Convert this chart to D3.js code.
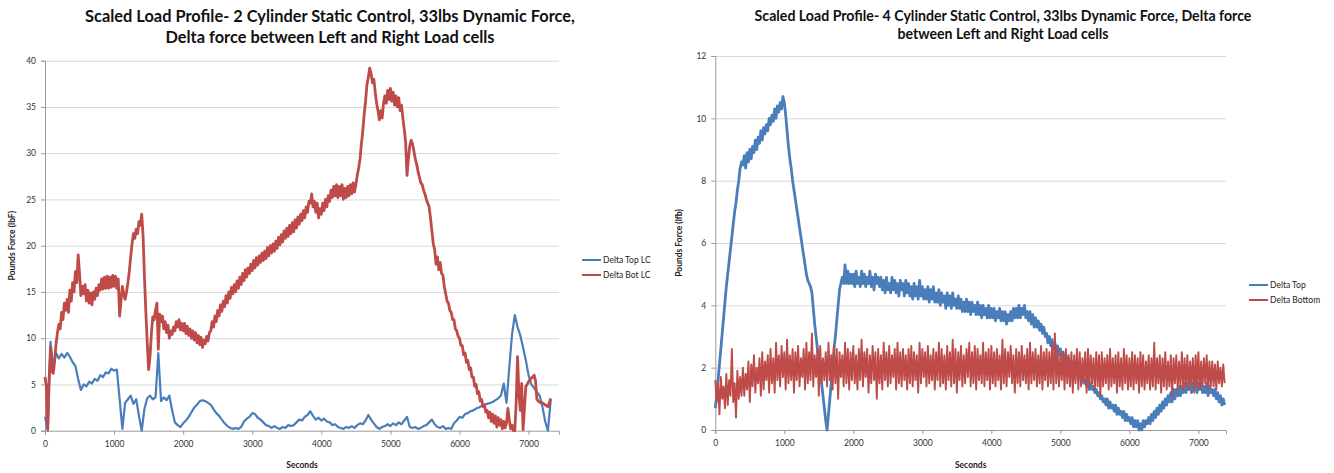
<!DOCTYPE html>
<html>
<head>
<meta charset="utf-8">
<script src="https://cdn.jsdelivr.net/npm/d3@7"></script>
<style>
  body { margin: 0; background: #ffffff; }
  svg { display: block; }
  text { font-family: Lato, "Open Sans", "DejaVu Sans", sans-serif; }
</style>
</head>
<body>
<svg id="chart" width="1334" height="473"></svg>
<script>
// --- 2 cylinder static control run: delta force (lbf) ---
// Top load cell, logged every 40 s
const deltaTopLCStep = 40;
const deltaTopLC = [
  1.5, 0.0, 9.6, 6.8, 8.4, 7.8, 8.3, 7.9, 8.4, 8.0,
  7.4, 7.0, 5.6, 4.4, 5.0, 4.8, 5.3, 5.1, 5.6, 5.4,
  6.0, 5.8, 6.3, 6.2, 6.7, 6.5, 6.6, 3.4, 0.2, 3.0,
  3.4, 3.8, 2.9, 3.4, 1.6, 0.0, 2.4, 3.5, 3.8, 3.4,
  3.6, 8.4, 3.2, 3.6, 3.3, 3.8, 2.2, 0.9, 0.6, 0.4,
  0.8, 1.1, 1.5, 2.0, 2.5, 2.8, 3.2, 3.3, 3.2, 3.0,
  2.8, 2.3, 1.9, 1.6, 1.2, 0.8, 0.5, 0.3, 0.2, 0.3,
  0.2, 0.4, 1.0, 1.3, 1.5, 1.9, 1.8, 1.4, 1.2, 0.9,
  0.6, 0.5, 0.3, 0.5, 0.3, 0.2, 0.4, 0.3, 0.6, 0.5,
  0.6, 0.9, 1.2, 1.1, 1.5, 1.7, 2.1, 1.6, 1.2, 1.4,
  1.1, 1.3, 1.0, 0.9, 0.6, 0.7, 0.4, 0.3, 0.2, 0.4,
  0.3, 0.5, 0.3, 0.6, 0.8, 0.7, 1.1, 1.7, 1.2, 0.8,
  0.4, 0.2, 0.4, 0.5, 0.7, 0.5, 0.8, 0.6, 0.9, 0.7,
  1.1, 1.5, 0.4, 0.3, 0.4, 0.2, 0.3, 0.5, 0.6, 0.9,
  1.2, 0.7, 0.4, 0.3, 0.5, 0.2, 0.3, 0.2, 0.8, 1.1,
  1.5, 1.4, 1.8, 1.9, 2.1, 2.2, 2.4, 2.5, 2.7, 2.8,
  2.9, 3.0, 3.1, 3.3, 3.5, 3.8, 5.1, 3.0, 6.8, 10.4,
  12.5, 11.2, 10.3, 9.0, 7.6, 6.0, 5.0, 4.6, 4.2, 3.8,
  2.6, 1.0, 0.0, 3.3
];
// Bottom load cell, logged every 20 s
const deltaBotLCStep = 20;
const deltaBotLC = [
  5.8, 4.8, 0.2, 5.6, 9.0, 6.4, 6.2, 7.6, 9.4, 10.6, 11.5, 11.0, 12.8, 12.0, 13.8, 13.0, 14.2, 12.8, 15.2, 14.0,
  16.0, 15.0, 17.2, 16.0, 19.0, 17.0, 14.6, 15.6, 14.8, 15.8, 14.0, 15.2, 13.8, 14.9, 13.6, 15.0, 14.2, 15.4, 14.6, 15.8,
  15.2, 16.4, 15.3, 16.6, 15.4, 16.7, 15.4, 16.6, 15.5, 16.8, 15.6, 16.7, 15.4, 16.4, 12.4, 14.0, 15.6, 14.8, 14.2, 15.0,
  16.0, 17.2, 18.8, 20.2, 21.3, 20.8, 21.8, 21.3, 22.6, 22.2, 23.4, 21.0, 16.5, 12.8, 9.5, 6.6, 8.0, 10.5, 12.3, 12.0,
  13.0, 13.8, 8.8, 12.6, 11.8, 12.4, 11.0, 11.8, 10.6, 11.4, 10.0, 10.8, 10.4, 11.2, 10.8, 11.8, 11.2, 12.0, 10.9, 11.6,
  10.8, 11.6, 10.5, 11.3, 10.3, 11.0, 10.0, 10.8, 9.8, 10.6, 9.5, 10.3, 9.3, 10.1, 9.0, 9.8, 9.4, 10.2, 9.7, 10.6,
  10.8, 11.8, 11.2, 12.4, 11.8, 13.0, 12.4, 13.6, 12.9, 14.0, 13.4, 14.6, 13.8, 15.0, 14.3, 15.5, 14.8, 15.8, 15.0, 16.2,
  15.4, 16.6, 15.8, 17.0, 16.2, 17.4, 16.6, 17.6, 17.0, 18.0, 17.3, 18.4, 17.6, 18.7, 17.9, 18.9, 18.2, 19.2, 18.4, 19.4,
  18.6, 19.8, 18.9, 20.0, 19.2, 20.2, 19.4, 20.5, 19.7, 20.9, 20.1, 21.2, 20.4, 21.6, 20.8, 21.9, 21.0, 22.2, 21.3, 22.5,
  21.5, 22.8, 21.9, 23.1, 22.3, 23.4, 22.7, 23.8, 23.0, 24.2, 23.6, 24.8, 24.6, 25.6, 24.2, 24.8, 23.6, 24.6, 23.0, 24.0,
  23.4, 24.6, 23.8, 25.0, 24.2, 25.4, 24.8, 26.0, 25.2, 26.4, 25.4, 26.6, 25.2, 26.4, 25.4, 26.6, 25.0, 26.2, 25.2, 26.4,
  25.4, 26.6, 25.6, 26.8, 25.8, 26.6, 27.6, 28.4, 29.4, 31.0, 32.4, 34.2, 35.6, 37.4, 38.2, 39.2, 38.6, 37.6, 38.0, 36.6,
  35.4, 34.6, 33.6, 34.6, 33.8, 35.4, 36.2, 35.4, 36.8, 35.8, 37.0, 35.6, 36.6, 35.2, 36.2, 35.0, 36.0, 34.6, 35.2, 33.8,
  32.6, 31.2, 27.6, 29.4, 30.8, 31.4, 31.0, 30.2, 29.4, 28.8, 28.0, 27.4, 26.8, 26.6, 26.0, 25.6, 25.0, 24.6, 24.2, 23.0,
  21.6, 20.2, 19.6, 18.0, 18.8, 17.4, 18.2, 17.0, 16.8, 15.6, 14.8, 14.0, 13.8, 13.0, 12.8, 12.0, 12.0, 11.0, 10.8, 10.2,
  10.0, 9.2, 9.2, 8.2, 8.4, 7.4, 7.6, 6.6, 6.8, 5.8, 5.8, 4.8, 5.0, 4.0, 4.2, 3.2, 3.4, 2.6, 2.8, 2.0,
  2.2, 1.4, 2.0, 1.0, 1.8, 0.8, 1.6, 0.4, 1.4, 0.6, 1.2, 0.2, 1.0, 0.3, 0.8, 2.4, 1.2, 0.2, 0.6, 0.0,
  0.0, 3.0, 8.0, 4.0, 2.2, 5.1, 0.1, 2.4, 4.8, 5.0, 5.3, 5.5, 5.7, 5.8, 6.0, 5.4, 3.4, 3.2, 3.1, 3.0,
  3.0, 2.9, 2.8, 2.7, 2.6, 3.0, 3.5
];

// --- 4 cylinder static control run: delta force (lbf), logged every 20 s ---
const deltaTopStep = 20;
const deltaTop = [
  0.7, 1.1, 1.6, 2.1, 2.6, 3.1, 3.6, 4.1, 4.6, 5.0, 5.4, 5.8, 6.2, 6.6, 7.0, 7.3, 7.7, 8.0, 8.4, 8.6,
  8.5, 8.8, 8.4, 8.9, 8.6, 9.0, 8.7, 9.1, 8.9, 9.3, 9.0, 9.4, 9.2, 9.6, 9.3, 9.7, 9.5, 9.8, 9.6, 10.0,
  9.8, 10.1, 9.9, 10.3, 10.0, 10.4, 10.2, 10.5, 10.3, 10.7, 10.5, 10.1, 9.6, 9.1, 8.7, 8.4, 8.0, 7.7, 7.4, 7.1,
  6.8, 6.5, 6.2, 5.9, 5.6, 5.3, 5.0, 4.8, 4.7, 4.6, 4.4, 3.9, 3.4, 3.0, 2.6, 2.2, 1.9, 1.5, 1.1, 0.7,
  0.3, 0.0, 0.5, 1.0, 1.5, 2.0, 2.6, 3.0, 3.5, 4.0, 4.5, 4.7, 4.9, 4.7, 5.3, 4.7, 5.1, 4.7, 5.0, 4.7,
  5.0, 4.6, 5.1, 4.7, 4.9, 4.6, 5.1, 4.7, 5.0, 4.6, 4.9, 4.7, 5.1, 4.6, 4.9, 4.5, 5.0, 4.7, 4.9, 4.6,
  4.9, 4.5, 4.8, 4.4, 4.9, 4.5, 4.7, 4.4, 4.9, 4.5, 4.8, 4.4, 4.7, 4.3, 4.8, 4.5, 4.7, 4.3, 4.8, 4.4,
  4.7, 4.3, 4.6, 4.2, 4.7, 4.3, 4.6, 4.2, 4.8, 4.3, 4.6, 4.2, 4.5, 4.2, 4.6, 4.1, 4.5, 4.2, 4.6, 4.1,
  4.4, 4.1, 4.5, 4.0, 4.4, 4.1, 4.3, 3.9, 4.4, 4.0, 4.3, 3.9, 4.4, 4.0, 4.2, 3.9, 4.3, 3.9, 4.2, 3.8,
  4.1, 3.8, 4.2, 3.8, 4.1, 3.7, 4.1, 3.8, 4.0, 3.7, 4.1, 3.7, 4.0, 3.6, 4.0, 3.7, 3.9, 3.6, 4.0, 3.6,
  3.9, 3.6, 3.9, 3.5, 3.8, 3.6, 3.9, 3.5, 3.8, 3.5, 3.8, 3.4, 3.7, 3.5, 3.8, 3.5, 3.9, 3.6, 3.9, 3.6,
  4.0, 3.6, 3.9, 3.7, 4.0, 3.6, 3.8, 3.5, 3.8, 3.4, 3.7, 3.3, 3.6, 3.3, 3.5, 3.2, 3.4, 3.1, 3.3, 3.0,
  3.1, 2.8, 3.0, 2.7, 2.9, 2.6, 2.8, 2.5, 2.7, 2.4, 2.6, 2.3, 2.5, 2.2, 2.4, 2.2, 2.3, 2.1, 2.2, 2.0,
  2.0, 1.8, 1.9, 1.7, 1.8, 1.6, 1.7, 1.5, 1.6, 1.4, 1.6, 1.3, 1.5, 1.3, 1.4, 1.2, 1.3, 1.1, 1.2, 1.0,
  1.1, 0.9, 1.0, 0.8, 1.0, 0.7, 0.9, 0.7, 0.8, 0.6, 0.8, 0.5, 0.7, 0.5, 0.6, 0.4, 0.6, 0.3, 0.5, 0.3,
  0.4, 0.2, 0.4, 0.1, 0.3, 0.1, 0.3, 0.0, 0.2, 0.0, 0.3, 0.1, 0.3, 0.2, 0.4, 0.2, 0.5, 0.3, 0.6, 0.4,
  0.7, 0.5, 0.8, 0.6, 0.9, 0.7, 1.0, 0.8, 1.1, 0.9, 1.2, 0.9, 1.3, 1.0, 1.3, 1.1, 1.4, 1.1, 1.4, 1.2,
  1.5, 1.2, 1.5, 1.3, 1.6, 1.2, 1.5, 1.3, 1.6, 1.2, 1.5, 1.3, 1.5, 1.2, 1.4, 1.2, 1.5, 1.1, 1.4, 1.2,
  1.3, 1.1, 1.3, 1.0, 1.2, 0.9, 1.1, 0.8, 1.0, 0.8
];
const deltaBottomStep = 20;
const deltaBottom = [
  1.6, 0.9, 1.5, 0.5, 1.7, 1.0, 1.4, 0.7, 1.8, 0.8, 1.6, 1.1, 2.6, 0.9, 1.5, 0.4, 1.9, 1.0, 1.7, 1.1,
  2.0, 1.1, 1.8, 1.3, 2.2, 0.9, 2.1, 1.4, 2.4, 1.2, 2.0, 1.5, 2.3, 1.1, 2.5, 1.3, 2.2, 1.6, 2.4, 1.2,
  2.6, 1.5, 2.3, 1.2, 2.8, 1.6, 2.4, 1.4, 2.7, 1.7, 2.5, 1.3, 2.9, 1.5, 2.4, 1.6, 2.6, 1.2, 2.5, 1.6,
  2.7, 1.4, 2.3, 1.7, 2.6, 1.3, 2.8, 1.5, 2.5, 1.6, 3.1, 1.4, 2.4, 1.7, 2.6, 1.1, 2.7, 1.5, 2.3, 1.6,
  2.5, 1.4, 2.8, 1.6, 2.4, 1.3, 2.7, 1.5, 2.6, 1.0, 2.5, 1.7, 2.4, 1.4, 2.8, 1.5, 2.6, 1.3, 2.5, 1.6,
  2.7, 1.5, 2.4, 1.3, 2.6, 1.6, 2.9, 1.4, 2.5, 1.7, 2.6, 1.2, 2.4, 1.5, 2.7, 1.6, 2.5, 1.0, 2.6, 1.5,
  2.4, 1.3, 2.8, 1.6, 2.5, 1.4, 2.7, 1.5, 2.4, 1.7, 2.6, 1.3, 2.8, 1.5, 2.5, 1.4, 2.6, 1.6, 2.4, 1.3,
  2.6, 1.5, 2.7, 1.4, 2.5, 1.6, 2.4, 1.2, 2.8, 1.5, 2.6, 1.7, 2.5, 1.4, 2.7, 1.5, 2.4, 1.6, 2.6, 1.3,
  2.5, 1.6, 2.8, 1.4, 2.6, 1.5, 2.4, 1.3, 2.7, 1.6, 2.5, 1.4, 2.9, 1.5, 2.6, 1.2, 2.5, 1.6, 2.7, 1.4,
  2.4, 1.5, 2.6, 1.7, 2.8, 1.4, 2.5, 1.5, 2.7, 1.3, 2.6, 1.6, 2.4, 1.5, 2.8, 1.4, 2.5, 1.6, 2.6, 1.3,
  2.7, 1.5, 2.5, 1.4, 2.6, 1.6, 2.4, 1.3, 2.9, 1.5, 2.6, 1.4, 2.5, 1.7, 2.7, 1.5, 2.4, 1.2, 2.6, 1.5,
  2.5, 1.4, 2.7, 1.6, 2.4, 1.5, 2.6, 1.3, 2.8, 1.5, 2.5, 1.6, 2.6, 1.4, 2.4, 1.5, 2.7, 1.3, 2.5, 1.6,
  2.6, 1.4, 2.5, 1.5, 2.7, 1.3, 3.1, 1.5, 2.6, 1.4, 2.4, 1.6, 2.5, 1.3, 2.6, 1.5, 2.4, 1.4, 2.5, 1.2,
  2.4, 1.5, 2.6, 1.3, 2.5, 1.4, 2.3, 1.6, 2.5, 1.2, 2.6, 1.4, 2.4, 1.5, 2.3, 1.3, 2.5, 1.4, 2.4, 1.1,
  2.5, 1.4, 2.3, 1.5, 2.4, 1.3, 2.6, 1.4, 2.3, 1.5, 2.4, 1.2, 2.5, 1.4, 2.3, 1.3, 2.6, 1.5, 2.4, 1.3,
  2.3, 1.4, 2.5, 1.3, 2.4, 1.5, 2.3, 1.2, 2.5, 1.4, 2.4, 1.3, 2.2, 1.5, 2.4, 1.3, 2.3, 1.4, 2.8, 1.3,
  2.3, 1.5, 2.4, 1.2, 2.3, 1.4, 2.5, 1.3, 2.2, 1.4, 2.4, 1.1, 2.3, 1.5, 2.4, 1.3, 2.2, 1.4, 2.5, 1.3,
  2.3, 1.4, 2.4, 1.3, 2.2, 1.5, 2.3, 1.2, 2.4, 1.4, 2.5, 1.3, 2.2, 1.4, 2.3, 1.5, 2.4, 1.3, 2.2, 1.4,
  2.2, 1.4, 2.1, 1.3, 2.2, 1.5, 2.0, 1.4, 2.1, 1.5
];

// Axis ticks
const secondsTicks = [0, 1000, 2000, 3000, 4000, 5000, 6000, 7000];
const leftForceTicks = [0, 5, 10, 15, 20, 25, 30, 35, 40];
const rightForceTicks = [0, 2, 4, 6, 8, 10, 12];

const blue = "#4a7ebb";
const red = "#be4b48";

const charts = [
  {
    title: ["Scaled Load Profile- 2 Cylinder Static Control, 33lbs Dynamic Force,",
            "Delta force between Left and Right Load cells"],
    titleSize: 15, titleWidth: 490, titleX: 330, titleY: [22, 43],
    yLabel: "Pounds Force (lbF)",
    xMax: 7440, yMax: 40, yTicks: leftForceTicks,
    plot: { left: 45, right: 559, top: 60.7, bottom: 430.7 },
    yLabelX: 15,
    series: [
      { name: "Delta Top LC", values: deltaTopLC, step: deltaTopLCStep, color: blue, width: 2.2 },
      { name: "Delta Bot LC", values: deltaBotLC, step: deltaBotLCStep, color: red, width: 2.8 }
    ],
    legend: { x: 582, y: 260, gap: 15 }
  },
  {
    title: ["Scaled Load Profile- 4 Cylinder Static Control, 33lbs Dynamic Force, Delta force",
            "between Left and Right Load cells"],
    titleSize: 13, titleWidth: 497, titleX: 1003, titleY: [21, 39],
    yLabel: "Pounds Force (lfb)",
    xMax: 7400, yMax: 12, yTicks: rightForceTicks,
    plot: { left: 715.3, right: 1226, top: 56, bottom: 430 },
    yLabelX: 682,
    series: [
      { name: "Delta Top", values: deltaTop, step: deltaTopStep, color: blue, width: 2.8 },
      { name: "Delta Bottom", values: deltaBottom, step: deltaBottomStep, color: red, width: 1.9 }
    ],
    legend: { x: 1249, y: 285, gap: 15 }
  }
];

const svg = d3.select("#chart");
const fmt = d3.format("d");

charts.forEach(cfg => {
  const p = cfg.plot;
  const x = d3.scaleLinear().domain([0, cfg.xMax]).range([p.left, p.right]);
  const y = d3.scaleLinear().domain([0, cfg.yMax]).range([p.bottom, p.top]);
  const g = svg.append("g");

  // horizontal gridlines
  g.append("g")
    .attr("transform", `translate(${p.left},0)`)
    .call(d3.axisLeft(y).tickValues(cfg.yTicks.slice(1)).tickSize(-(p.right - p.left)).tickFormat(""))
    .call(a => a.select(".domain").remove())
    .call(a => a.selectAll("line").attr("stroke", "#d9d9d9").attr("stroke-width", 1));

  // y axis
  g.append("g")
    .attr("transform", `translate(${p.left},0)`)
    .call(d3.axisLeft(y).tickValues(cfg.yTicks).tickFormat(fmt).tickSize(4).tickPadding(5))
    .call(a => a.select(".domain").attr("stroke", "#9a9a9a"))
    .call(a => a.selectAll("line").attr("stroke", "#9a9a9a"))
    .call(a => a.selectAll("text").attr("font-size", 8.5).attr("fill", "#333"));

  // x axis
  g.append("g")
    .attr("transform", `translate(0,${p.bottom})`)
    .call(d3.axisBottom(x).tickValues(secondsTicks).tickFormat(fmt).tickSize(4).tickPadding(6))
    .call(a => a.select(".domain").attr("stroke", "#9a9a9a"))
    .call(a => a.selectAll("line").attr("stroke", "#9a9a9a"))
    .call(a => a.selectAll("text").attr("font-size", 8.5).attr("fill", "#333"));

  // series
  cfg.series.forEach(s => {
    const line = d3.line()
      .x((d, i) => x(i * s.step))
      .y(d => y(d));
    g.append("path")
      .datum(s.values)
      .attr("d", line)
      .attr("fill", "none")
      .attr("stroke", s.color)
      .attr("stroke-width", s.width)
      .attr("stroke-linejoin", "round");
  });

  // title, sized so the first line spans the wanted width
  const t1 = g.append("text")
    .attr("x", cfg.titleX).attr("y", cfg.titleY[0])
    .attr("text-anchor", "middle")
    .attr("font-weight", "bold")
    .attr("font-size", cfg.titleSize)
    .attr("fill", "#111")
    .text(cfg.title[0]);
  const fs = cfg.titleSize * cfg.titleWidth / t1.node().getComputedTextLength();
  t1.attr("font-size", fs);
  g.append("text")
    .attr("x", cfg.titleX).attr("y", cfg.titleY[1])
    .attr("text-anchor", "middle")
    .attr("font-weight", "bold")
    .attr("font-size", fs)
    .attr("fill", "#111")
    .text(cfg.title[1]);

  // axis titles
  g.append("text")
    .attr("x", (p.left + p.right) / 2).attr("y", 468)
    .attr("text-anchor", "middle")
    .attr("font-weight", "bold")
    .attr("font-size", 8.5)
    .attr("fill", "#222")
    .text("Seconds");
  g.append("text")
    .attr("transform", `translate(${cfg.yLabelX},${(p.top + p.bottom) / 2}) rotate(-90)`)
    .attr("text-anchor", "middle")
    .attr("font-weight", "bold")
    .attr("font-size", 8.5)
    .attr("fill", "#222")
    .text(cfg.yLabel);

  // legend
  const lg = g.append("g").attr("transform", `translate(${cfg.legend.x},${cfg.legend.y})`);
  cfg.series.forEach((s, i) => {
    const row = lg.append("g").attr("transform", `translate(0,${i * cfg.legend.gap})`);
    row.append("line").attr("x1", 0).attr("x2", 19).attr("y1", 0).attr("y2", 0)
      .attr("stroke", s.color).attr("stroke-width", 2);
    row.append("text").attr("x", 21).attr("y", 3)
      .attr("font-size", 8.5).attr("fill", "#222")
      .text(s.name);
  });
});
</script>
</body>
</html>
